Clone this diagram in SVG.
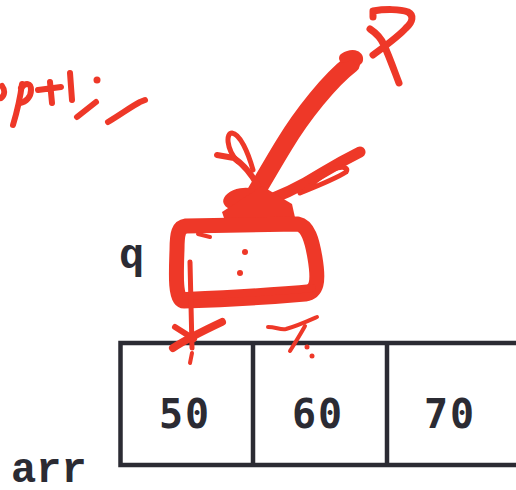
<svg xmlns="http://www.w3.org/2000/svg" width="516" height="490" viewBox="0 0 516 490">
<style>
.ink{fill:none;stroke:#ee3828;stroke-linecap:round;stroke-linejoin:round}
.dot{fill:#ee3828}
.cell{fill:none;stroke:#2b2b33;stroke-width:4.5}
.num{font-family:"DejaVu Sans Mono",monospace;font-weight:bold;font-size:40px;fill:#2b2b33;text-anchor:middle;letter-spacing:2px}
.lbl{font-family:"Liberation Mono","Courier New",monospace;font-weight:bold;fill:#2b2b33}
</style>
<rect width="516" height="490" fill="#ffffff"/>
<g id="arr">
<rect class="cell" x="120.5" y="343" width="410" height="122"/>
<line class="cell" x1="253" y1="343" x2="253" y2="465"/>
<line class="cell" x1="387" y1="343" x2="387" y2="465"/>
<text class="num" x="185" y="428">50</text>
<text class="num" x="318" y="428">60</text>
<text class="num" x="450" y="428">70</text>
<text class="lbl" x="11" y="482" font-size="42">arr</text>
</g>
<g id="q">
<text class="lbl" x="119" y="268" font-size="42">q</text>
</g>
<g id="connectors">
<path class="ink" stroke-width="6" d="M2 86 C5 90 5 95 1 98"/>
<path class="ink" stroke-width="6" d="M22 84 C20 100 16 115 13 125"/>
<path class="ink" stroke-width="6" d="M21 88 C26 82 31 83 31 90 C31 97 26 102 20 103"/>
<path class="ink" stroke-width="6" d="M38 90 L61 87 M50 82 L52 103"/>
<path class="ink" stroke-width="6" d="M70 73 L72 100"/>
<circle class="dot" cx="97" cy="80" r="3.5"/>
<path class="ink" stroke-width="6" d="M96 102 L77 117"/>
<path class="ink" stroke-width="6" d="M108 122 C120 115 132 106 140 102 L145 100"/>
<path class="ink" stroke-width="7" d="M373 17 L373 11 C385 9 400 9 408 12 C414 15 413 22 406 28 C398 37 385 46 373 55"/>
<path class="ink" stroke-width="7" d="M370 29 C376 33 381 38 384 45 C389 56 394 70 399 83"/>
<path class="ink" stroke-width="18" d="M351 64 C330 80 302 115 284 145 C273 163 262 182 248 206"/>
<path class="ink" stroke-width="10" d="M344 58 C352 53 359 55 358 60"/>
<path class="ink" stroke-width="6" d="M217 155 L234 158 C244 165 252 175 258 186"/>
<path class="ink" stroke-width="5" d="M237 161 C226 148 226 133 232 133 C240 134 248 152 253 170"/>
<path class="ink" stroke-width="11" d="M250 206 C275 199 300 187 322 173 C340 162 352 156 360 152"/>
<path class="ink" stroke-width="5" d="M300 193 C320 185 340 176 346 172 C350 166 338 165 325 174 C316 180 310 186 305 190"/>
<ellipse class="dot" cx="242" cy="199" rx="19" ry="11" transform="rotate(-10 242 199)"/>
<path class="dot" d="M222 212 L262 186 L292 204 L296 222 L226 224 Z"/>
<path class="ink" stroke-width="15" d="M186 226 L298 224 C308 226 312 240 315 258 C319 282 317 292 305 294 C260 298 220 300 184 301 C175 301 176 275 177 250 C177 232 179 227 186 226 Z"/>
<path class="ink" stroke-width="8" d="M186 296 C230 294 270 292 312 288"/>
<path class="ink" stroke-width="4" d="M198 234 L210 237"/>
<circle class="dot" cx="245" cy="252" r="3"/>
<circle class="dot" cx="240" cy="273" r="3"/>
<path class="ink" stroke-width="5" d="M190 262 L192 348"/>
<path class="ink" stroke-width="4" d="M192 353 L190 363"/>
<path class="ink" stroke-width="6" d="M175 327 L194 339"/>
<path class="ink" stroke-width="8" d="M222 322 C205 330 185 340 173 348"/>
<path class="ink" stroke-width="4" d="M268 327 C276 327 280 330 286 329 C297 326 308 321 317 317"/>
<path class="ink" stroke-width="4" d="M305 326 C300 335 295 343 290 351"/>
<circle class="dot" cx="307" cy="347" r="2.5"/>
<circle class="dot" cx="312" cy="356" r="2.5"/>
</g>
</svg>
